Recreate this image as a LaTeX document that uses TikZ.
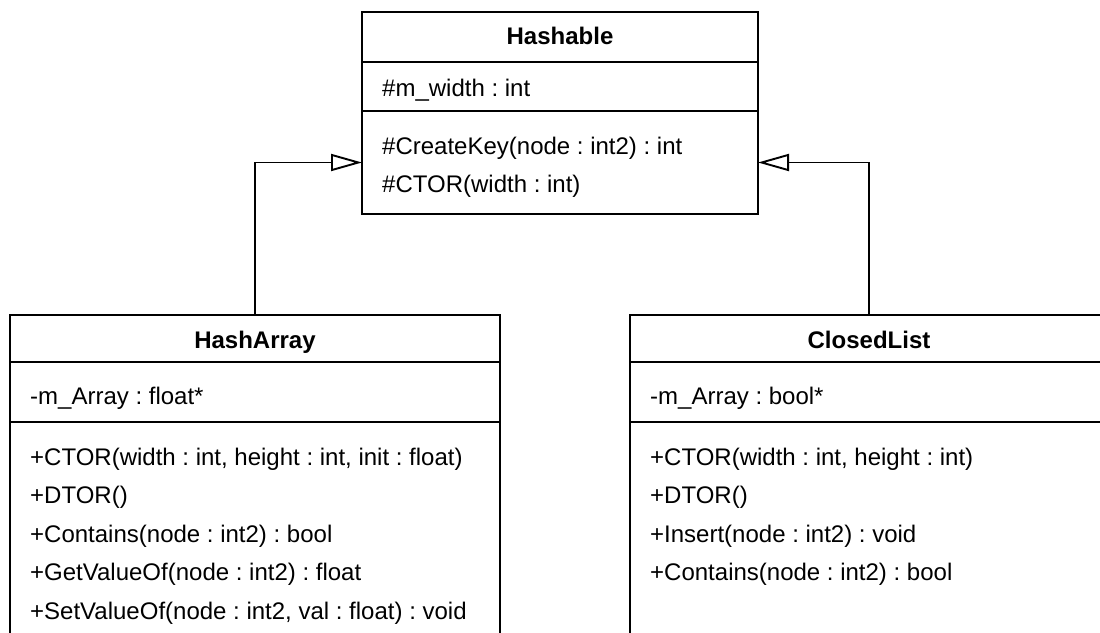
\documentclass[tikz,border=0pt]{standalone}
\usepackage{fontspec}
\setmainfont{Liberation Sans}
\usetikzlibrary{arrows.meta}

\newcommand{\umlfont}{\fontsize{24}{38.5}\selectfont}
\frenchspacing

\tikzset{
    compart/.style={draw, line width=1.2pt, inner sep=0pt, outer sep=0pt, anchor=north},
    member/.style={inner sep=0pt, anchor=base west, align=left, font=\umlfont},
    title/.style={inner sep=0pt, anchor=base, font=\umlfont\bfseries},
    inherit/.style={line width=1.9pt, -{Triangle[open, length=31pt, width=17pt, fill=white]}},
}

\begin{document}
\begin{tikzpicture}[x=1pt, y=-1pt]
    \useasboundingbox (0,0) rectangle (1100,632);
    \clip (0,0) rectangle (1100,632);

    % base class (base anchor of a multi-line member node = last line)
    \node[compart, minimum width=396pt, minimum height=50pt] (hashtop) at (560,12) {};
    \node[compart, minimum width=396pt, minimum height=49pt] (hashattr) at (hashtop.south) {};
    \node[compart, minimum width=396pt, minimum height=103pt] (hashops) at (hashattr.south) {};
    \node[title] (hashname) at ([yshift=-32pt]hashtop.north) {Hashable};
    \node[member] (hashvars) at ([xshift=20pt, yshift=-34pt]hashattr.north west) {\#m\_width : int};
    \node[member] (hashfuncs) at ([xshift=20pt, yshift=-81.5pt]hashops.north west)
        {\#CreateKey(node : int2) : int\\ \#CTOR(width : int)};

    % HashArray
    \node[compart, minimum width=490pt, minimum height=47pt] (arrtop) at (255,315) {};
    \node[compart, minimum width=490pt, minimum height=60pt] (arrattr) at (arrtop.south) {};
    \node[compart, minimum width=490pt, minimum height=240pt] (arrops) at (arrattr.south) {};
    \node[title] (arrname) at ([yshift=-33pt]arrtop.north) {HashArray};
    \node[member] (arrvars) at ([xshift=20pt, yshift=-42pt]arrattr.north west) {-m\_Array : float*};
    \node[member] (arrfuncs) at ([xshift=20pt, yshift=-197pt]arrops.north west)
        {+CTOR(width : int, height : int, init : float)\\ +DTOR()\\ +Contains(node : int2) : bool\\
         +GetValueOf(node : int2) : float\\ +SetValueOf(node : int2, val : float) : void};

    % ClosedList
    \node[compart, minimum width=478pt, minimum height=47pt] (listtop) at (869,315) {};
    \node[compart, minimum width=478pt, minimum height=60pt] (listattr) at (listtop.south) {};
    \node[compart, minimum width=478pt, minimum height=240pt] (listops) at (listattr.south) {};
    \node[title] (listname) at ([yshift=-33pt]listtop.north) {ClosedList};
    \node[member] (listvars) at ([xshift=20pt, yshift=-42pt]listattr.north west) {-m\_Array : bool*};
    \node[member] (listfuncs) at ([xshift=20pt, yshift=-158.5pt]listops.north west)
        {+CTOR(width : int, height : int)\\ +DTOR()\\ +Insert(node : int2) : void\\
         +Contains(node : int2) : bool};

    \draw[inherit] (arrtop.north) |- (hashops.west);
    \draw[inherit] (listtop.north) |- (hashops.east);
\end{tikzpicture}
\end{document}
